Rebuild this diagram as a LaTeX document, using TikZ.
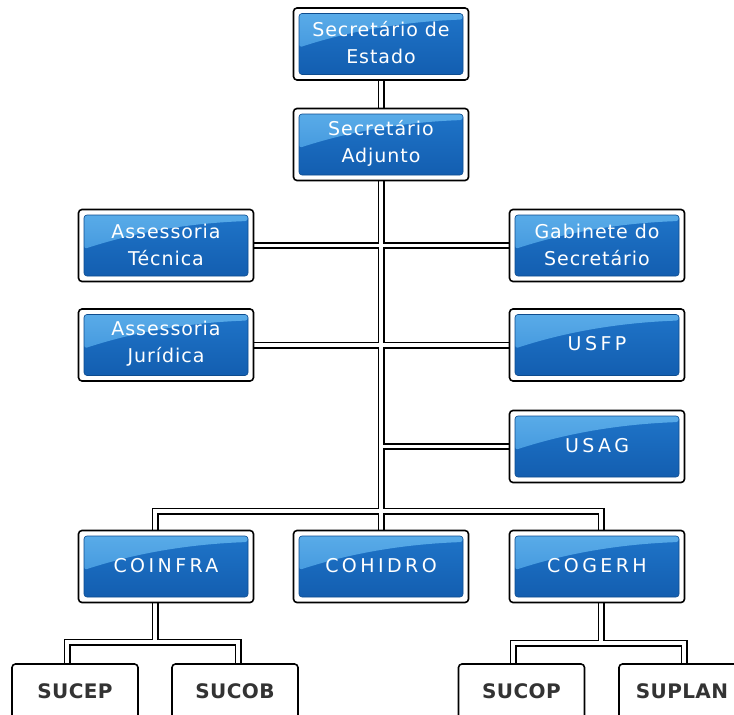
\documentclass[tikz,border=0pt]{standalone}
\usepackage{fontspec}
\setmainfont{DejaVu Sans}
\newfontfamily\titlefont[LetterSpace=5]{DejaVu Sans}
\newfontfamily\acrofont[LetterSpace=18]{DejaVu Sans}
\newfontfamily\subfont[LetterSpace=2]{DejaVu Sans}
\usetikzlibrary{backgrounds}

\definecolor{panelTop}{HTML}{1F74C8}
\definecolor{panelBot}{HTML}{135EB0}
\definecolor{glossTop}{HTML}{5DAEEA}
\definecolor{glossBot}{HTML}{3890DA}
\definecolor{panelEdge}{HTML}{0E4C8E}
\definecolor{subText}{HTML}{333333}

\tikzset{
  x=1pt, y=-1pt,
  frame/.style={draw=black, line width=1.6pt, fill=white, rounded corners=3.5pt,
    inner sep=0pt, minimum width=175pt, minimum height=72pt},
  panel/.style={draw=panelEdge, line width=0.6pt, rounded corners=3pt, inner sep=0pt,
    minimum width=164pt, minimum height=61pt, top color=panelTop, bottom color=panelBot,
    path picture={
      \shade[top color=glossTop, bottom color=glossBot, opacity=0.95]
        ([yshift=-34pt]path picture bounding box.north west)
        .. controls ([xshift=55pt,yshift=-16pt]path picture bounding box.north west)
        and ([xshift=-55pt,yshift=-8pt]path picture bounding box.north east)
        .. ([yshift=-6pt]path picture bounding box.north east)
        -- (path picture bounding box.north east)
        -- (path picture bounding box.north west) -- cycle;
    }},
  lbl/.style={inner sep=0pt, align=center, text=white},
  subframe/.style={draw=black, line width=1.6pt, fill=white, rounded corners=3.5pt,
    inner sep=0pt, minimum width=126pt, minimum height=72pt},
  subtext/.style={inner sep=0pt, text=subText, font=\subfont\bfseries\fontsize{20}{22}\selectfont},
  wire/.style={line width=#1, line cap=butt, line join=miter},
}

\newcommand\twoline{\titlefont\fontsize{19}{27}\selectfont}
\newcommand\oneline{\acrofont\fontsize{19}{22}\selectfont}

% #1 name, #2 x, #3 y, #4 font, #5 text
\newcommand\orgbox[5]{%
  \node[frame] (#1) at (#2,#3) {};
  \node[panel] (#1-panel) at (#2,#3) {};
  \node[lbl, font=#4] (#1-text) at ([yshift=1pt]#1.center) {#5};
}
% #1 name, #2 x, #3 y, #4 text
\newcommand\unitbox[4]{%
  \node[subframe] (#1) at (#2,#3) {};
  \node[subtext] (#1-text) at ([yshift=9pt]#1.center) {#4};
}

\begin{document}
\begin{tikzpicture}
\useasboundingbox (0,0) rectangle (734,715);
\clip (0,0) rectangle (734,715);

% management boxes
\orgbox{SE}{381}{44}{\twoline}{Secretário de\\Estado}
\orgbox{SA}{381}{144.5}{\twoline}{Secretário\\Adjunto}
\orgbox{AT}{166}{245.5}{\twoline}{Assessoria\\Técnica}
\orgbox{GS}{597}{245.5}{\twoline}{Gabinete do\\Secretário}
\orgbox{AJ}{166}{345}{\twoline}{Assessoria\\Jurídica}
\orgbox{USFP}{597}{345}{\oneline}{USFP}
\orgbox{USAG}{597}{446.5}{\oneline}{USAG}
\orgbox{COINFRA}{166}{566.5}{\oneline}{COINFRA}
\orgbox{COHIDRO}{381}{566.5}{\oneline}{COHIDRO}
\orgbox{COGERH}{597}{566.5}{\oneline}{COGERH}

% subordinate units
\unitbox{SUCEP}{75}{700}{SUCEP}
\unitbox{SUCOB}{235}{700}{SUCOB}
\unitbox{SUCOP}{521.5}{700}{SUCOP}
\unitbox{SUPLAN}{682}{700}{SUPLAN}

% bus points
\coordinate (busC) at (381,511);
\coordinate (busL) at (155,511);
\coordinate (busR) at (601,511);
\coordinate (subLa) at (67,642);
\coordinate (subLm) at (155,642);
\coordinate (subLb) at (238,642);
\coordinate (subRa) at (513,643);
\coordinate (subRm) at (601,643);
\coordinate (subRb) at (684,643);

% double-line connectors: black pass first, white pass on top
\begin{scope}[on background layer]
\foreach \w/\c in {7pt/black, 3.4pt/white}{
  \draw[wire=\w, draw=\c] (SE.south) -- (SA.north);
  \draw[wire=\w, draw=\c] (SA.south) -- (busC);
  \draw[wire=\w, draw=\c] (AT.east) -- (GS.west);
  \draw[wire=\w, draw=\c] (AJ.east) -- (USFP.west);
  \draw[wire=\w, draw=\c] (USAG.west -| busC) -- (USAG.west);
  \draw[wire=\w, draw=\c] (COINFRA.north -| busL) -- (busL) -- (busR) -- (COGERH.north -| busR);
  \draw[wire=\w, draw=\c] (busC) -- (COHIDRO.north);
  \draw[wire=\w, draw=\c] (COINFRA.south -| subLm) -- (subLm);
  \draw[wire=\w, draw=\c] (SUCEP.north -| subLa) -- (subLa) -- (subLb) -- (SUCOB.north -| subLb);
  \draw[wire=\w, draw=\c] (COGERH.south -| subRm) -- (subRm);
  \draw[wire=\w, draw=\c] (SUCOP.north -| subRa) -- (subRa) -- (subRb) -- (SUPLAN.north -| subRb);
}
\end{scope}
\end{tikzpicture}
\end{document}
